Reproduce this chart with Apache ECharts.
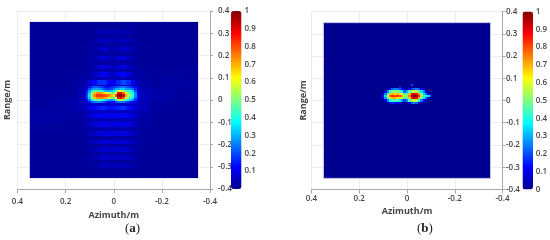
<!DOCTYPE html>
<html><head><meta charset="utf-8">
<style>html,body{margin:0;padding:0;background:#fff}#c{width:550px;height:240px}</style>
<script src="https://cdn.jsdelivr.net/npm/echarts@6/dist/echarts.min.js"></script>
</head><body><div id="c"></div>
<script>
const xTicks = [-0.4, 0.4];
const jet = ['#00008f','#0000ff','#007fff','#00ffff','#7fff7f','#ffff00','#ff7f00','#ff0000','#800000'];

// Panel (a): broad background, coarse 0.05 m blocks
const aCoarseAz = [0.325,0.275,0.225,0.175,0.125,0.075,0.025,-0.025,-0.075,-0.125,-0.175,-0.225,-0.275,-0.325];
const aCoarseRange = [0.325,0.275,0.225,0.175,0.125,0.075,0.025,-0.025,-0.075,-0.125,-0.175,-0.225,-0.275,-0.325];
const aCoarse = [
[.01,.01,.01,.01,.01,.012,.016,.016,.012,.01,.01,.01,.01,.01],
[.01,.01,.01,.01,.011,.015,.02,.02,.015,.011,.01,.01,.01,.01],
[.01,.01,.01,.01,.012,.017,.022,.022,.017,.012,.01,.01,.01,.01],
[.01,.01,.01,.01,.013,.02,.026,.026,.02,.013,.01,.01,.01,.01],
[.01,.01,.01,.012,.017,.025,.032,.032,.025,.017,.012,.012,.014,.014],
[.01,.01,.012,.014,.026,.04,.046,.046,.04,.026,.018,.022,.022,.018],
[.012,.014,.014,.018,.046,.065,.07,.07,.065,.046,.03,.022,.014,.012],
[.014,.018,.022,.03,.046,.065,.07,.07,.065,.046,.018,.014,.012,.01],
[.022,.026,.022,.018,.026,.04,.046,.046,.04,.026,.014,.012,.01,.01],
[.018,.014,.014,.012,.017,.025,.032,.032,.025,.017,.012,.01,.01,.01],
[.01,.01,.01,.012,.014,.02,.026,.026,.02,.014,.012,.01,.01,.01],
[.01,.01,.01,.01,.012,.017,.022,.022,.017,.012,.01,.01,.01,.01],
[.01,.01,.01,.01,.012,.015,.018,.018,.015,.012,.01,.01,.01,.01],
[.01,.01,.01,.01,.01,.012,.015,.015,.012,.01,.01,.01,.01,.01]
];

// Panel (a): horizontal ripple bands
const aBandAz = [0.10,0.08,0.06,0.04,0.02,0,-0.02,-0.04,-0.06,-0.08,-0.10];
const aBandRange = [0.306,0.266,0.228,0.19,0.149,0.115,0.079,-0.035,-0.07,-0.11,-0.15,-0.188,-0.222,-0.258,-0.295];
const aBands = [
[.012,.02,.04,.05,.04,.03,.04,.05,.04,.02,.012],
[.012,.025,.05,.06,.045,.035,.05,.06,.045,.025,.012],
[.015,.03,.055,.07,.05,.04,.055,.075,.05,.025,.015],
[.018,.035,.065,.08,.055,.045,.07,.085,.055,.03,.018],
[.022,.04,.075,.09,.065,.05,.08,.1,.06,.035,.022],
[.03,.06,.09,.11,.075,.06,.1,.13,.08,.05,.022],
[.08,.13,.17,.17,.12,.1,.16,.2,.17,.11,.05],
[.09,.13,.15,.16,.14,.14,.16,.17,.14,.1,.06],
[.07,.09,.1,.11,.1,.1,.11,.12,.1,.08,.05],
[.05,.08,.09,.1,.09,.09,.1,.1,.09,.07,.04],
[.04,.06,.08,.09,.085,.08,.09,.09,.08,.055,.035],
[.035,.05,.07,.08,.075,.07,.08,.08,.07,.045,.03],
[.025,.04,.06,.07,.065,.06,.07,.07,.06,.04,.025],
[.02,.035,.05,.06,.055,.05,.06,.06,.05,.03,.02],
[.015,.025,.04,.05,.045,.04,.05,.05,.04,.025,.015]
];

// Panel (a): core, 0.01 m cells
const aCoreAz = [0.11,0.10,0.09,0.08,0.07,0.06,0.05,0.04,0.03,0.02,0.01,0,-0.01,-0.02,-0.03,-0.04,-0.05,-0.06,-0.07,-0.08,-0.09,-0.10];
const aCoreRange = [0.06,0.05,0.04,0.03,0.02,0.01,0,-0.01];
const aCore = [
[.1,.14,.18,.22,.22,.2,.18,.16,.14,.14,.16,.18,.2,.22,.24,.24,.22,.2,.18,.15,.12,.1],
[.12,.2,.25,.28,.3,.28,.24,.2,.18,.18,.2,.24,.28,.3,.32,.32,.28,.28,.26,.22,.15,.1],
[.15,.28,.38,.45,.48,.45,.4,.34,.3,.28,.3,.36,.44,.55,.6,.55,.45,.42,.4,.32,.2,.12],
[.18,.32,.52,.68,.74,.74,.72,.68,.62,.56,.5,.46,.62,.88,.92,.78,.62,.5,.45,.38,.25,.13],
[.2,.35,.56,.74,.82,.82,.82,.8,.78,.75,.7,.58,.8,.98,1,.92,.72,.55,.48,.4,.26,.14],
[.18,.32,.52,.68,.74,.75,.74,.73,.7,.62,.5,.44,.6,.86,.9,.78,.6,.48,.42,.35,.22,.13],
[.14,.24,.36,.44,.46,.46,.44,.38,.32,.28,.26,.28,.42,.54,.58,.52,.42,.36,.32,.25,.16,.1],
[.1,.14,.2,.24,.26,.26,.24,.2,.16,.14,.14,.14,.18,.24,.26,.24,.2,.18,.14,.12,.1,.08]
];

// Panel (b): core, 0.01 m cells
const bCoreAz = [0.10,0.09,0.08,0.07,0.06,0.05,0.04,0.03,0.02,0.01,0,-0.01,-0.02,-0.03,-0.04,-0.05,-0.06,-0.07,-0.08,-0.09,-0.10];
const bCoreRange = [0.07,0.06,0.05,0.04,0.03,0.02,0.01,0,-0.01];
const bCore = [
[0,0,0,0,0,0,0,0,0,0,0,0,.2,0,0,0,0,0,0,0,0],
[0,0,0,0,0,0,0,.15,0,0,0,0,0,0,0,0,0,0,0,0,0],
[0,0,0,.14,.22,.26,.24,.2,.14,.05,0,.12,.18,.22,.24,.2,.12,.05,0,0,0],
[0,.08,.26,.42,.5,.52,.5,.46,.36,.22,.3,.46,.54,.58,.56,.46,.35,.25,.1,0,0],
[.08,.26,.46,.68,.7,.66,.7,.66,.6,.44,.45,.68,.88,.95,.88,.72,.48,.33,.25,.1,0],
[.16,.34,.58,.76,.84,.8,.82,.78,.72,.58,.5,.76,.96,1,.98,.85,.54,.42,.4,.36,.15],
[.12,.28,.48,.66,.7,.72,.66,.66,.6,.44,.44,.68,.88,.95,.88,.7,.46,.35,.25,.1,0],
[0,.1,.26,.38,.44,.42,.44,.38,.26,.18,.26,.46,.54,.58,.54,.4,.24,.12,.05,0,0],
[0,0,0,.12,.16,.14,.12,.08,0,0,0,.12,.22,.26,.22,.12,0,0,0,0,0]
];
const aBackground = 0.01, bBackground = 0;

function layer(azs, ranges, vals, w, h) {
  const out = [];
  ranges.forEach((r, i) => azs.forEach((a, j) => out.push([a, r, w, h, vals[i][j], 0])));
  return out;
}
const extent = 0.7;
const aData = [[0, 0, extent, extent, aBackground, 1]]
  .concat(layer(aCoarseAz, aCoarseRange, aCoarse, 0.05, 0.05))
  .concat(layer(aBandAz, aBandRange, aBands, 0.02, 0.02))
  .concat(layer(aCoreAz, aCoreRange, aCore, 0.01, 0.01));
const bData = [[0, 0, extent, extent, bBackground, 1]]
  .concat(layer(bCoreAz, bCoreRange, bCore, 0.01, 0.01).filter(d => d[4] > 0));

function renderCell(params, api) {
  const a = api.value(0), r = api.value(1), w = api.value(2), h = api.value(3);
  const p0 = api.coord([a + w / 2, r + h / 2]);
  const p1 = api.coord([a - w / 2, r - h / 2]);
  const edge = api.value(5) === 1;
  const x0 = edge ? p0[0] : Math.round(p0[0]), y0 = edge ? p0[1] : Math.round(p0[1]);
  const x1 = edge ? p1[0] : Math.round(p1[0]), y1 = edge ? p1[1] : Math.round(p1[1]);
  return { type: 'rect', shape: { x: x0, y: y0, width: x1 - x0, height: y1 - y0 },
    style: { fill: api.visual('color'), stroke: edge ? '#c9c9ee' : null, lineWidth: edge ? 1 : 0 } };
}

const font = '"Open Sans"';
const label = { color: '#444', fontFamily: font, fontSize: 8, fontWeight: 600 };
const grey = '#a8a8a8';
function xAx(gi, margin, gap) {
  return { type: 'value', gridIndex: gi, inverse: true, min: xTicks[0], max: xTicks[1], interval: 0.2,
    position: 'bottom', name: 'Azimuth/m', nameLocation: 'middle', nameGap: gap,
    nameTextStyle: { color: '#444', fontFamily: font, fontSize: 9, fontWeight: 700 },
    axisLine: { show: true, onZero: false, lineStyle: { color: grey } },
    axisTick: { show: true, length: 4, lineStyle: { color: grey } },
    axisLabel: Object.assign({ margin, showMinLabel: true, showMaxLabel: true }, label),
    splitLine: { show: true, lineStyle: { color: '#ececec' } } };
}
function yAx(gi, margin) {
  return { type: 'value', gridIndex: gi, min: xTicks[0], max: xTicks[1], interval: 0.1, position: 'right',
    axisLine: { show: true, onZero: false, lineStyle: { color: grey } },
    axisTick: { show: true, length: 3, lineStyle: { color: grey } },
    axisLabel: Object.assign({ margin }, label),
    splitLine: { show: true, lineStyle: { color: '#ececec' } } };
}
function nameAx(gi, gap) {
  return { type: 'value', gridIndex: gi, min: xTicks[0], max: xTicks[1], position: 'left',
    name: 'Range/m', nameLocation: 'middle', nameGap: gap,
    nameTextStyle: { color: '#444', fontFamily: font, fontSize: 9, fontWeight: 700 },
    axisLine: { show: false }, axisTick: { show: false }, axisLabel: { show: false }, splitLine: { show: false } };
}
function barAx(gi, showZero) {
  return { type: 'value', gridIndex: gi, min: 0, max: 1, interval: 0.1, position: 'right', z: 6,
    axisLine: { show: false }, axisTick: { show: false }, splitLine: { show: false },
    axisLabel: Object.assign({ margin: 3, formatter: v => (v === 0 && !showZero) ? '' : String(v) }, label) };
}
function barX(gi) { return { type: 'value', gridIndex: gi, show: false, min: 0, max: 1 }; }
function vm(series, left, top) {
  return { type: 'continuous', seriesIndex: series, min: 0, max: 1, dimension: 4, left, top, padding: 0,
    itemWidth: 10.5, itemHeight: 178, calculable: false, hoverLink: false, text: null, inRange: { color: jet } };
}
const capRich = {
  n: { fontFamily: '"Liberation Serif"', fontSize: 13, fontWeight: 400, color: '#222' },
  b: { fontFamily: '"Liberation Serif"', fontSize: 13, fontWeight: 700, color: '#222' }
};
const chart = echarts.init(document.getElementById('c'), null, { renderer: 'canvas' });
chart.setOption({
  animation: false,
  title: [
    { text: '{n|(}{b|a}{n|)}', left: 125, top: 222, padding: 0, textStyle: { fontWeight: 400, rich: capRich } },
    { text: '{n|(}{b|b}{n|)}', left: 417, top: 222, padding: 0, textStyle: { fontWeight: 400, rich: capRich } }
  ],
  grid: [
    { left: 17.5, top: 11, width: 192.5, height: 178 },
    { left: 231, top: 11, width: 10.5, height: 178 },
    { left: 311.5, top: 11.5, width: 191, height: 178 },
    { left: 522.5, top: 11.5, width: 10.5, height: 178 }
  ],
  xAxis: [xAx(0, 9, 16), barX(1), xAx(2, 5, 15), barX(3)],
  yAxis: [yAx(0, 8), nameAx(0, 6), barAx(1, false), yAx(2, 3.5), nameAx(2, 4), barAx(3, true)],
  visualMap: [vm(0, 231, 11), vm(1, 522.5, 11.5)],
  series: [
    { type: 'custom', xAxisIndex: 0, yAxisIndex: 0, data: aData, renderItem: renderCell, encode: { x: 0, y: 1 }, progressive: 0, silent: true, clip: true },
    { type: 'custom', xAxisIndex: 2, yAxisIndex: 3, data: bData, renderItem: renderCell, encode: { x: 0, y: 1 }, progressive: 0, silent: true, clip: true }
  ]
});
</script></body></html>
